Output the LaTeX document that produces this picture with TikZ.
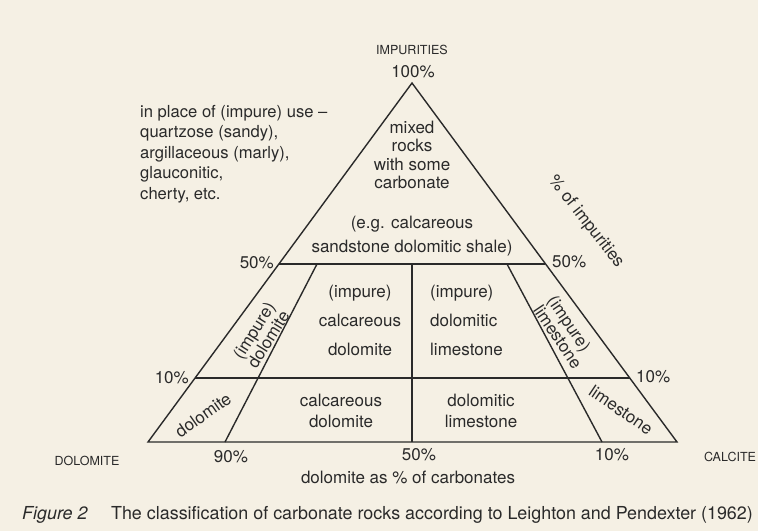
\documentclass[tikz,border=0pt]{standalone}
\usepackage{fontspec}
\setmainfont{TeX Gyre Heros}
\definecolor{paper}{RGB}{245,240,228}
\definecolor{ink}{RGB}{42,42,42}
\tikzset{
  txt/.style={font=\fontsize{17}{20.5}\selectfont, text=ink, inner sep=0pt},
  corner/.style={font=\fontsize{12.5}{15}\selectfont, text=ink, inner sep=0pt},
  edge/.style={draw=ink, line width=1.4pt},
}
\begin{document}
\begin{tikzpicture}[x=1pt,y=-1pt]
\fill [paper] (0,0) rectangle (758,531);
\useasboundingbox (0,0) rectangle (758,531);
% corners of the triangle
\coordinate (dol) at (148,442);
\coordinate (cal) at (677,442);
\coordinate (imp) at (412,83);
% ends of the 50% and 10% lines
\coordinate (l50) at (279,264);
\coordinate (r50) at (545,264);
\coordinate (l10) at (195,378);
\coordinate (r10) at (630,378);
% dividing lines
\coordinate (a50) at (317,264);
\coordinate (a90) at (225,442);
\coordinate (m50) at (412,264);
\coordinate (m00) at (412,442);
\coordinate (c50) at (507,264);
\coordinate (c10) at (602,442);
\draw [edge, line join=miter] (dol) -- (cal) -- (imp) -- cycle;
\draw [edge] (l50) -- (r50);
\draw [edge] (l10) -- (r10);
\draw [edge] (a50) -- (a90);
\draw [edge] (m50) -- (m00);
\draw [edge] (c50) -- (c10);
% labels
\node [corner] (impurities) at (412,50) {IMPURITIES};
\node [txt] (p100) at (413,72) {100\%};
\node [txt, anchor=west, align=left, font=\fontsize{16.6}{20.5}\selectfont] (inplace) at (140,154) {in place of (impure) use --\\quartzose (sandy),\\argillaceous (marly),\\glauconitic,\\cherty, etc.};
\node [txt, align=center, font=\fontsize{17}{18.3}\selectfont] (mixed) at (412,155) {mixed\\rocks\\with some\\carbonate};
\node [txt, align=center, font=\fontsize{17}{24}\selectfont] (eg) at (412,236) {(e.g. calcareous\\sandstone dolomitic shale)};
\node [txt, anchor=east] (l50lbl) at (274,263) {50\%};
\node [txt, anchor=west] (r50lbl) at (552,262) {50\%};
\node [txt, rotate=-52] (pcimp) at (586,222) {\% of impurities};
\node [txt, align=center, font=\fontsize{17}{29}\selectfont] (calcdol) at (360,320) {(impure)\\calcareous\\dolomite};
\node [txt, anchor=west, align=left, font=\fontsize{17}{29}\selectfont] (dollime) at (430,320) {(impure)\\dolomitic\\limestone};
\node [txt, align=center, rotate=58, font=\fontsize{17}{15}\selectfont] (impdol) at (261,335) {(impure)\\dolomite};
\node [txt, align=left, rotate=-56, font=\fontsize{17}{16}\selectfont] (implime) at (565,332) {(impure)\\limestone};
\node [txt, rotate=35] (dolomite) at (203,415) {dolomite};
\node [txt, rotate=-34] (limestone) at (621,410) {limestone};
\node [txt, align=center] (calcdol10) at (341,411) {calcareous\\dolomite};
\node [txt, align=center] (dollime10) at (481,411) {dolomitic\\limestone};
\node [txt, anchor=east] (l10lbl) at (189,378) {10\%};
\node [txt, anchor=west] (r10lbl) at (636,377) {10\%};
\node [corner] (dolomitecorner) at (87,461) {DOLOMITE};
\node [txt] (p90) at (231,457) {90\%};
\node [txt] (p50) at (419,455) {50\%};
\node [txt] (p10) at (612,455) {10\%};
\node [corner] (calcitecorner) at (730,457) {CALCITE};
\node [txt] (axis) at (408,477) {dolomite as \% of carbonates};
\node [txt, anchor=west, font=\fontsize{17.9}{20}\selectfont] (caption) at (22,515) {\textit{Figure 2}\hspace{1.3em}The classification of carbonate rocks according to Leighton and Pendexter (1962)};
\end{tikzpicture}
\end{document}
